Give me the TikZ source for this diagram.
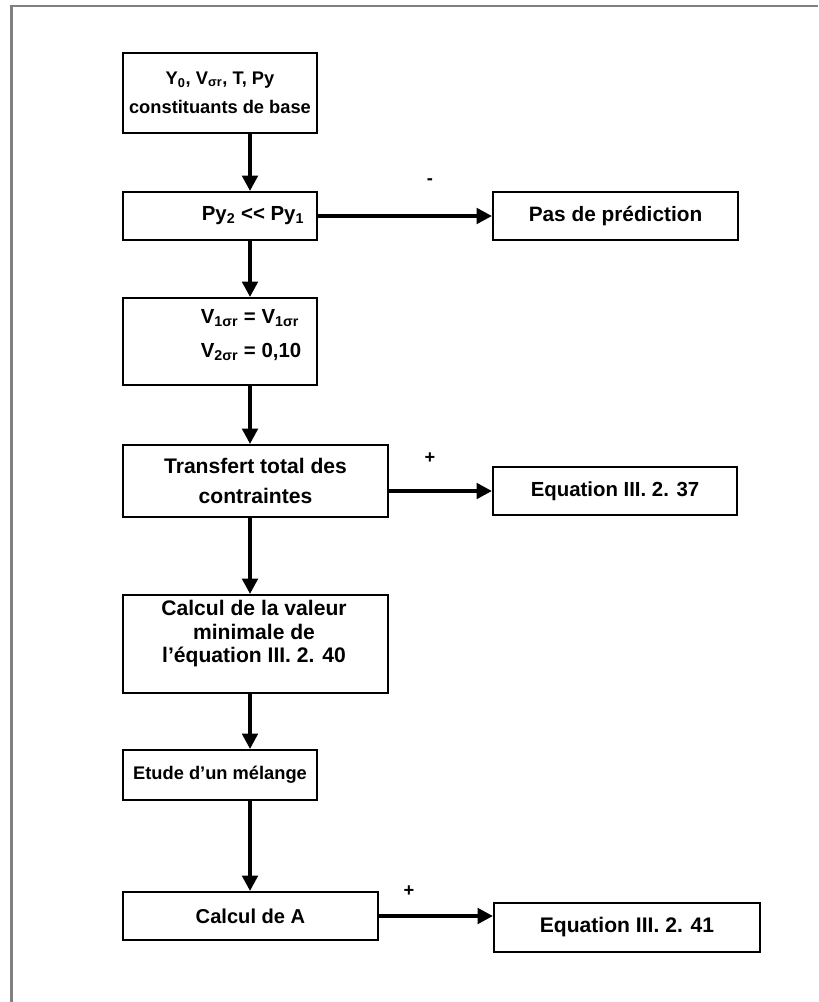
\documentclass[tikz,border=0pt]{standalone}
\usepackage{fontspec}
\setmainfont{Liberation Sans}
\usetikzlibrary{arrows.meta,positioning}

\begin{document}
\begin{tikzpicture}[
    x=0.025cm, y=-0.025cm,
    fs/.style={font=\fontsize{#1}{21}\selectfont\bfseries},
    box/.style={rectangle, draw, line width=1.4pt, inner sep=0pt, fs=13.5, align=center},
    txt/.style={fs=13.5, align=center},
    sign/.style={font=\fontsize{13}{14}\selectfont\bfseries},
    arrow/.style={-{Triangle[length=11pt,width=11pt]}, line width=2.6pt}
]

% Page and frame
\useasboundingbox (0,0) rectangle (818,1002);
\draw [gray, line width=2pt] (11.5,1002) -- (11.5,6) -- (818,6);

% Column of the vertical arrows
\coordinate (col) at (250,0);

% Main column
\node at (220,93) [box, fs=13, minimum width=4.85cm, minimum height=2cm] (base) {Y\textsubscript{0}, V\textsubscript{σr}, T, Py\\constituants de base};

\node at (220,216) [box, minimum width=4.85cm, minimum height=1.2cm] (py) {};
\node at (253,216) [txt, fs=14.5] (pytxt) {Py\textsubscript{2} <\kern0pt< Py\textsubscript{1}};

\node at (220,341.5) [box, minimum width=4.85cm, minimum height=2.175cm] (vor) {};
\node at (251,335) [txt, align=left, font=\fontsize{14.5}{24}\selectfont\bfseries] (vortxt) {V\textsubscript{1σr} = V\textsubscript{1σr}\\V\textsubscript{2σr} = 0,10};

\node at (255.5,481) [box, fs=15, minimum width=6.625cm, minimum height=1.8cm] (transf) {Transfert total des\\contraintes};

\node at (255.5,644) [box, minimum width=6.625cm, minimum height=2.45cm] (calc) {};
\node at (254,634) [txt, font=\fontsize{15}{16.7}\selectfont\bfseries] (calctxt) {Calcul de la valeur\\minimale de\\l’équation III. 2. 40};

\node at (220,775) [box, fs=13, minimum width=4.85cm, minimum height=1.25cm] (etude) {Etude d’un mélange};

\node at (250.5,916) [box, fs=14.3, minimum width=6.375cm, minimum height=1.2cm] (calcA) {Calcul de A};

% Right column
\node at (615.5,216) [box, fs=14.8, minimum width=6.125cm, minimum height=1.2cm] (pas) {Pas de prédiction};
\node at (615,491) [box, fs=14.5, minimum width=6.1cm, minimum height=1.2cm] (eqa) {Equation III. 2. 37};
\node at (627,927.5) [box, fs=15, minimum width=6.65cm, minimum height=1.225cm] (eqb) {Equation III. 2. 41};

% Signs
\node at (430,182) [sign] (minus) {-};
\node at (430,458) [sign] (plusa) {+};
\node at (409,891) [sign] (plusb) {+};

% Vertical arrows
\draw [arrow] (base.south -| col) -- (py.north -| col);
\draw [arrow] (py.south -| col) -- (vor.north -| col);
\draw [arrow] (vor.south -| col) -- (transf.north -| col);
\draw [arrow] (transf.south -| col) -- (calc.north -| col);
\draw [arrow] (calc.south -| col) -- (etude.north -| col);
\draw [arrow] (etude.south -| col) -- (calcA.north -| col);

% Horizontal arrows
\draw [arrow] (py.east) -- (pas.west);
\draw [arrow] (eqa.west -| transf.east) -- (eqa.west);
\draw [arrow] (calcA.east) -- (calcA.east -| eqb.west);

\end{tikzpicture}
\end{document}
